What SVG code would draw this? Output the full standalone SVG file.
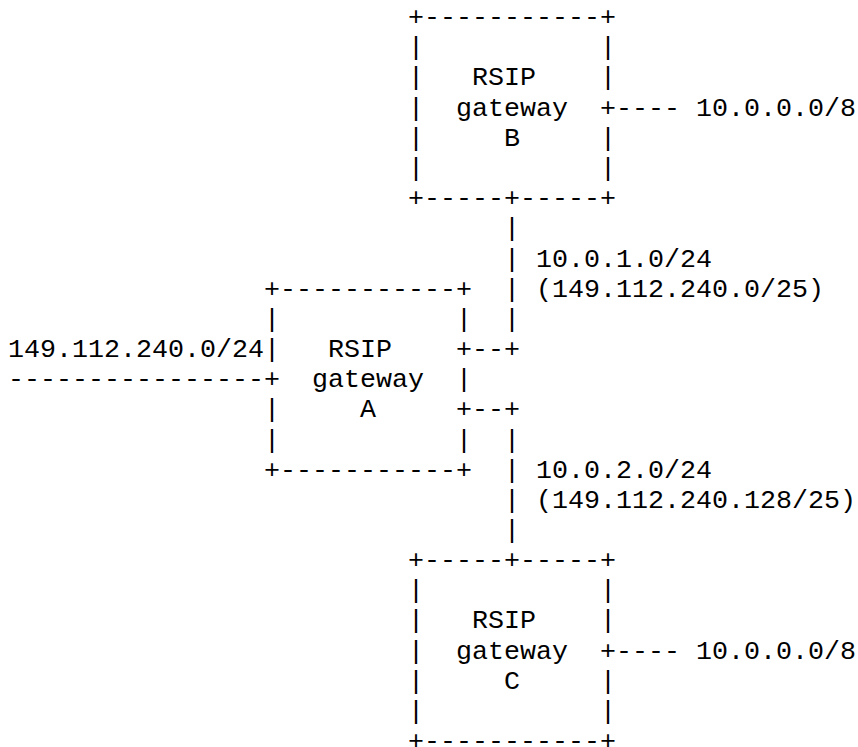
<svg xmlns="http://www.w3.org/2000/svg" width="858" height="747" viewBox="0 0 858 747">
<style>
text{font-family:"Liberation Mono","Courier New",monospace;font-size:26.67px;fill:#000;white-space:pre}
</style>
<rect width="858" height="747" fill="#fff"/>
<g id="gatewayB" xml:space="preserve">
<text x="408" y="25.1">+-----------+</text>
<text x="408" y="55.3">|           |</text>
<text x="408" y="85.4">|   RSIP    |</text>
<text x="408" y="115.6">|  gateway  +</text>
<text x="408" y="145.8">|     B     |</text>
<text x="408" y="176">|           |</text>
<text x="408" y="206.1">+-----+-----+</text>
</g>
<g id="gatewayA" xml:space="preserve">
<text x="264" y="296.7">+-----------+</text>
<text x="264" y="326.8">|           |</text>
<text x="264" y="357">|   RSIP    +</text>
<text x="264" y="387.2">+  gateway  |</text>
<text x="264" y="417.3">|     A     +</text>
<text x="264" y="447.5">|           |</text>
<text x="264" y="477.7">+-----------+</text>
</g>
<g id="gatewayC" xml:space="preserve">
<text x="408" y="568.1">+-----+-----+</text>
<text x="408" y="598.2">|           |</text>
<text x="408" y="628.4">|   RSIP    |</text>
<text x="408" y="658.6">|  gateway  +</text>
<text x="408" y="688.8">|     C     |</text>
<text x="408" y="718.9">|           |</text>
<text x="408" y="749.1">+-----------+</text>
</g>
<g id="connectors" xml:space="preserve">
<text x="616" y="115.6">----</text>
<text x="504" y="236.3">|</text>
<text x="504" y="266.5">|</text>
<text x="504" y="296.7">|</text>
<text x="504" y="326.8">|</text>
<text x="472" y="357">--+</text>
<text x="8" y="387.2">----------------</text>
<text x="472" y="417.3">--+</text>
<text x="504" y="447.5">|</text>
<text x="504" y="477.7">|</text>
<text x="504" y="507.8">|</text>
<text x="504" y="538">|</text>
<text x="616" y="658.6">----</text>
</g>
<g id="labels">
<text x="696" y="115.6">10.0.0.0/8</text>
<text x="536" y="266.5">10.0.1.0/24</text>
<text x="536" y="296.7">(149.112.240.0/25)</text>
<text x="8" y="357">149.112.240.0/24</text>
<text x="536" y="477.7">10.0.2.0/24</text>
<text x="536" y="507.8">(149.112.240.128/25)</text>
<text x="696" y="658.6">10.0.0.0/8</text>
</g>
</svg>
